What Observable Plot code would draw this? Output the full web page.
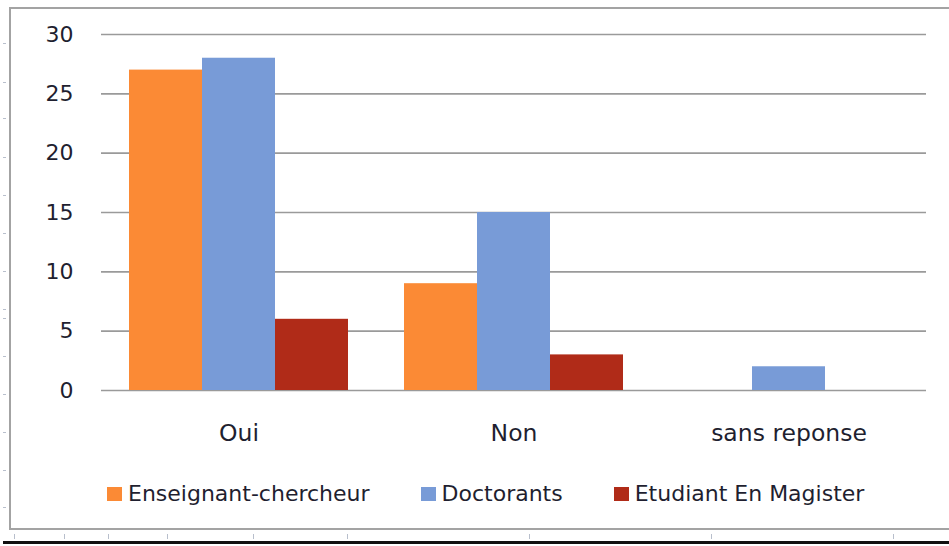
<!DOCTYPE html>
<html>
<head>
<meta charset="utf-8">
<script src="https://cdn.jsdelivr.net/npm/d3@7"></script>
<script src="https://cdn.jsdelivr.net/npm/@observablehq/plot@0.6"></script>
<style>
  html, body { margin: 0; padding: 0; background: #fff; width: 949px; height: 546px; overflow: hidden; }
  body { position: relative; font-family: "DejaVu Sans", sans-serif; color: #1f1f30; }
  #frame { position: absolute; left: 9px; top: 7px; width: 980px; height: 523px; border: 2px solid #a3a3a3; box-sizing: border-box; }
  #chart { position: absolute; left: 0; top: 0; }
  #legend { position: absolute; left: 107px; top: 480px; display: flex; gap: 51px; font-size: 22px; align-items: center; line-height: 28px; }
  .item { display: flex; align-items: center; gap: 6px; }
  .sw { width: 15px; height: 14px; display: inline-block; }
  #baseline { position: absolute; left: 3px; top: 541px; width: 960px; height: 3px; background: #111; }
  .lt { position: absolute; left: 3px; width: 3px; height: 1px; background: #b8bfcc; }
  .bt { position: absolute; top: 534px; width: 1px; height: 5px; background: #b8bfcc; }
</style>
</head>
<body>
<div id="frame"></div>
<div id="chart"></div>
<div id="legend"></div>
<div id="baseline"></div>
<script>
const groups = ["Oui", "Non", "sans reponse"];
const series = ["Enseignant-chercheur", "Doctorants", "Etudiant En Magister"];
const colors = ["#fb8a35", "#789bd7", "#b02b18"];
const enseignant = [27, 9, 0];
const doctorants = [28, 15, 2];
const magister = [6, 3, 0];
const yTicks = [0, 5, 10, 15, 20, 25, 30];

const values = [enseignant, doctorants, magister];
const data = [];
groups.forEach((g, gi) => series.forEach((s, si) => data.push({group: g, series: s, value: values[si][gi]})));

const chart = Plot.plot({
  width: 949,
  height: 460,
  marginLeft: 100,
  marginRight: 22,
  marginTop: 34,
  marginBottom: 70,
  style: {fontFamily: "DejaVu Sans, sans-serif", fontSize: "22px", color: "#1f1f30", background: "transparent"},
  fx: {domain: groups, padding: 0, label: null, axis: "bottom", tickSize: 0, tickPadding: 34},
  x: {domain: series, paddingInner: 0, paddingOuter: 0.37, axis: null},
  y: {domain: [0, 30], ticks: yTicks, label: null, tickSize: 0, tickPadding: 28, grid: false},
  color: {domain: series, range: colors},
  marks: [
    Plot.ruleY(yTicks, {stroke: "#9a9a9a", strokeWidth: 1.6, strokeOpacity: 1}),
    Plot.barY(data, {fx: "group", x: "series", y: "value", fill: "series", insetLeft: 0, insetRight: 0})
  ]
});
d3.select(chart).selectAll("text").style("font-size", "22px");
d3.select(chart).selectAll("[aria-label^='fx-axis'] text").style("font-size", "23.5px");
document.getElementById("chart").appendChild(chart);

const legend = document.getElementById("legend");
series.forEach((s, i) => {
  const item = document.createElement("div");
  item.className = "item";
  const sw = document.createElement("span");
  sw.className = "sw";
  sw.style.background = colors[i];
  const t = document.createElement("span");
  t.textContent = s;
  item.appendChild(sw);
  item.appendChild(t);
  legend.appendChild(item);
});

// screenshot border artifacts (decoration)
[43, 82, 118, 157, 195, 233, 271, 309, 318, 356, 394, 432, 470, 507].forEach(y => {
  const d = document.createElement("div"); d.className = "lt"; d.style.top = y + "px"; document.body.appendChild(d);
});
[14, 64, 108, 167, 253, 347, 529, 711, 893].forEach(x => {
  const d = document.createElement("div"); d.className = "bt"; d.style.left = x + "px"; document.body.appendChild(d);
});
</script>
</body>
</html>
